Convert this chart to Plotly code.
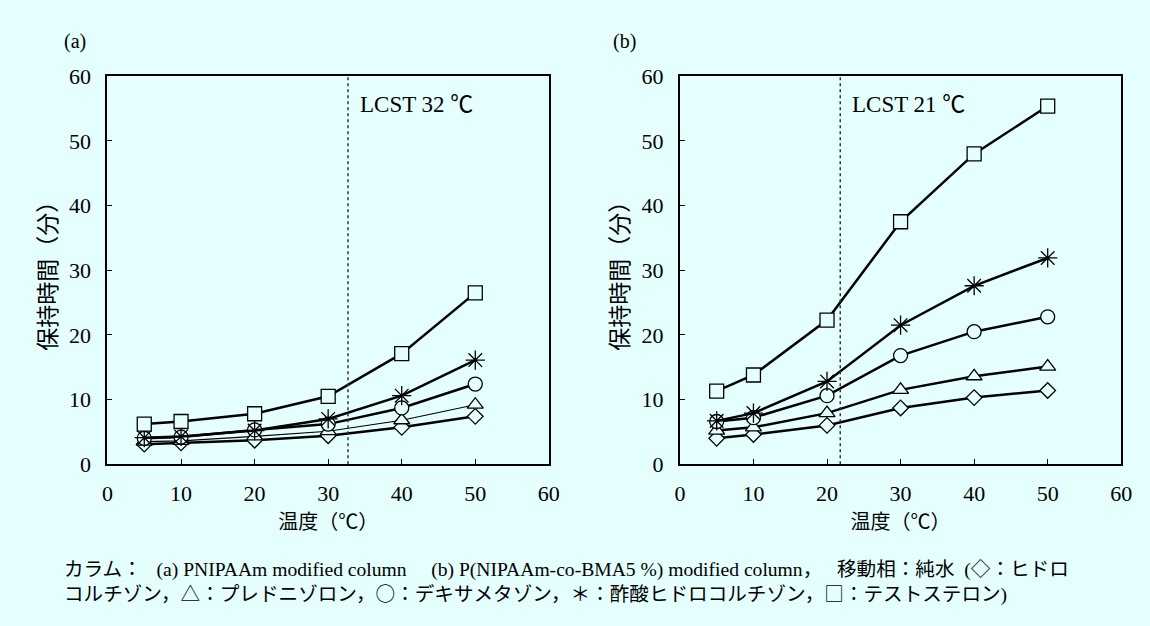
"""
Retention time vs. temperature for two thermo-responsive columns
"""

import plotly.graph_objects as go

# Data
temps = [5, 10, 20, 30, 40, 50]

series_names = ['ヒドロコルチゾン', 'プレドニゾロン', 'デキサメタゾン', '酢酸ヒドロコルチゾン', 'テストステロン']

# (a) PNIPAAm modified column
a_diamond = [3.1, 3.3, 3.7, 4.4, 5.7, 7.4]
a_triangle = [3.5, 3.6, 4.3, 5.1, 6.8, 9.2]
a_circle = [4.0, 4.2, 5.3, 6.2, 8.7, 12.4]
a_asterisk = [4.1, 4.3, 5.2, 7.0, 10.6, 16.1]
a_square = [6.2, 6.6, 7.8, 10.5, 17.1, 26.5]

# (b) P(NIPAAm-co-BMA5 %) modified column
b_diamond = [4.0, 4.6, 6.0, 8.7, 10.3, 11.4]
b_triangle = [5.2, 5.7, 7.9, 11.5, 13.6, 15.1]
b_circle = [6.6, 7.2, 10.6, 16.8, 20.5, 22.8]
b_asterisk = [6.7, 7.9, 12.8, 21.5, 27.6, 31.9]
b_square = [11.3, 13.8, 22.3, 37.5, 48.0, 55.4]

lcst_a = 32.7
lcst_b = 21.8
lcst_label_a = 'LCST 32 ℃'
lcst_label_b = 'LCST 21 ℃'

axis_ticks = [0, 10, 20, 30, 40, 50, 60]

CJK = 'Noto Sans CJK JP'
NB = '\u00a0'


def sym(ch):
    # symbol glyphs from the CJK font so they get full width
    return f'<span style="font-family:{CJK}">{ch}</span>'


caption_lines = [
    f'カラム：{NB*3}(a) PNIPAAm modified column{NB*5}(b) P(NIPAAm-co-BMA5 %) modified column，{NB*3}移動相：純水{NB*2}({sym("◇")}：ヒドロ',
    f'コルチゾン，{sym("△")}：プレドニゾロン，{sym("○")}：デキサメタゾン，{sym("＊")}：酢酸ヒドロコルチゾン，{sym("□")}：テストステロン)',
]

BG = '#E5FFFF'
SERIF = 'Liberation Serif, Noto Sans CJK JP'

symbols = ['diamond', 'triangle-up', 'circle', 'asterisk-open', 'square']
sizes = [12, 14, 14, 16, 14]

fig = go.Figure()

panels = [
    ('x', 'y', [a_diamond, a_triangle, a_circle, a_asterisk, a_square], [2.5, 1.2, 2.5, 2.5, 2.5]),
    ('x2', 'y2', [b_diamond, b_triangle, b_circle, b_asterisk, b_square], [2.5, 2.5, 2.5, 2.5, 2.5]),
]

for xa, ya, values, widths in panels:
    for name, vals, s, size, lw in zip(series_names, values, symbols, sizes, widths):
        fig.add_trace(
            go.Scatter(
                x=temps,
                y=vals,
                mode='lines+markers',
                name=name,
                xaxis=xa,
                yaxis=ya,
                line=dict(color='black', width=lw),
                marker=dict(
                    symbol=s,
                    size=size,
                    color=BG if s != 'asterisk-open' else 'black',
                    line=dict(color='black', width=1.3)
                ),
                showlegend=False
            )
        )

axis_common = dict(
    range=[0, 60],
    tickvals=axis_ticks,
    ticks='inside',
    ticklen=5,
    tickwidth=1,
    tickcolor='black',
    showline=True,
    linecolor='black',
    linewidth=2,
    mirror=True,
    showgrid=False,
    zeroline=False,
    tickfont=dict(family=SERIF, size=22, color='black'),
)

W, H = 1150, 626
y_dom = [1 - 471 / H, 1 - 67 / H]

fig.update_layout(
    width=W,
    height=H,
    paper_bgcolor=BG,
    plot_bgcolor=BG,
    margin=dict(l=0, r=0, t=0, b=0),
    font=dict(family=SERIF, color='black'),
    xaxis=dict(axis_common, domain=[103 / W, 551 / W], anchor='y', ticklabelstandoff=8,
               title=dict(text='温度（℃）', font=dict(size=20), standoff=10)),
    yaxis=dict(axis_common, domain=y_dom, anchor='x', ticklabelstandoff=10,
               title=dict(text='保持時間（分）', font=dict(size=23), standoff=6)),
    xaxis2=dict(axis_common, domain=[684 / W, 1132 / W], anchor='y2', ticklabelstandoff=8,
                title=dict(text='温度（℃）', font=dict(size=20), standoff=10)),
    yaxis2=dict(axis_common, domain=y_dom, anchor='x2', ticklabelstandoff=10,
                title=dict(text='保持時間（分）', font=dict(size=23), standoff=6)),
)

# LCST markers
for xref, yref, xv, label in [('x', 'y', lcst_a, lcst_label_a), ('x2', 'y2', lcst_b, lcst_label_b)]:
    fig.add_shape(
        type='line', xref=xref, yref=yref, x0=xv, x1=xv, y0=0, y1=60,
        line=dict(color='#333333', width=1.5, dash='dot')
    )
    fig.add_annotation(
        xref=xref, yref=yref, x=xv + 1.3, y=55.6, text=label, showarrow=False,
        xanchor='left', yanchor='middle', font=dict(family=SERIF, size=23)
    )

# Panel labels
for xp, label in [(57 / W, '(a)'), (614 / W, '(b)')]:
    fig.add_annotation(
        xref='paper', yref='paper', x=xp, y=1 - 31 / H, text=label, showarrow=False,
        xanchor='left', yanchor='middle', font=dict(family=SERIF, size=20)
    )

# Caption
fig.add_annotation(
    xref='paper', yref='paper', x=57 / W, y=1 - 592 / H, text='<br>'.join(caption_lines),
    showarrow=False, xanchor='left', yanchor='middle', align='left',
    font=dict(family=SERIF, size=19.6)
)

fig.write_html(
    'out.html',
    config={'displayModeBar': False},
    post_script="document.body.style.margin='0';document.body.style.overflow='hidden';"
)
